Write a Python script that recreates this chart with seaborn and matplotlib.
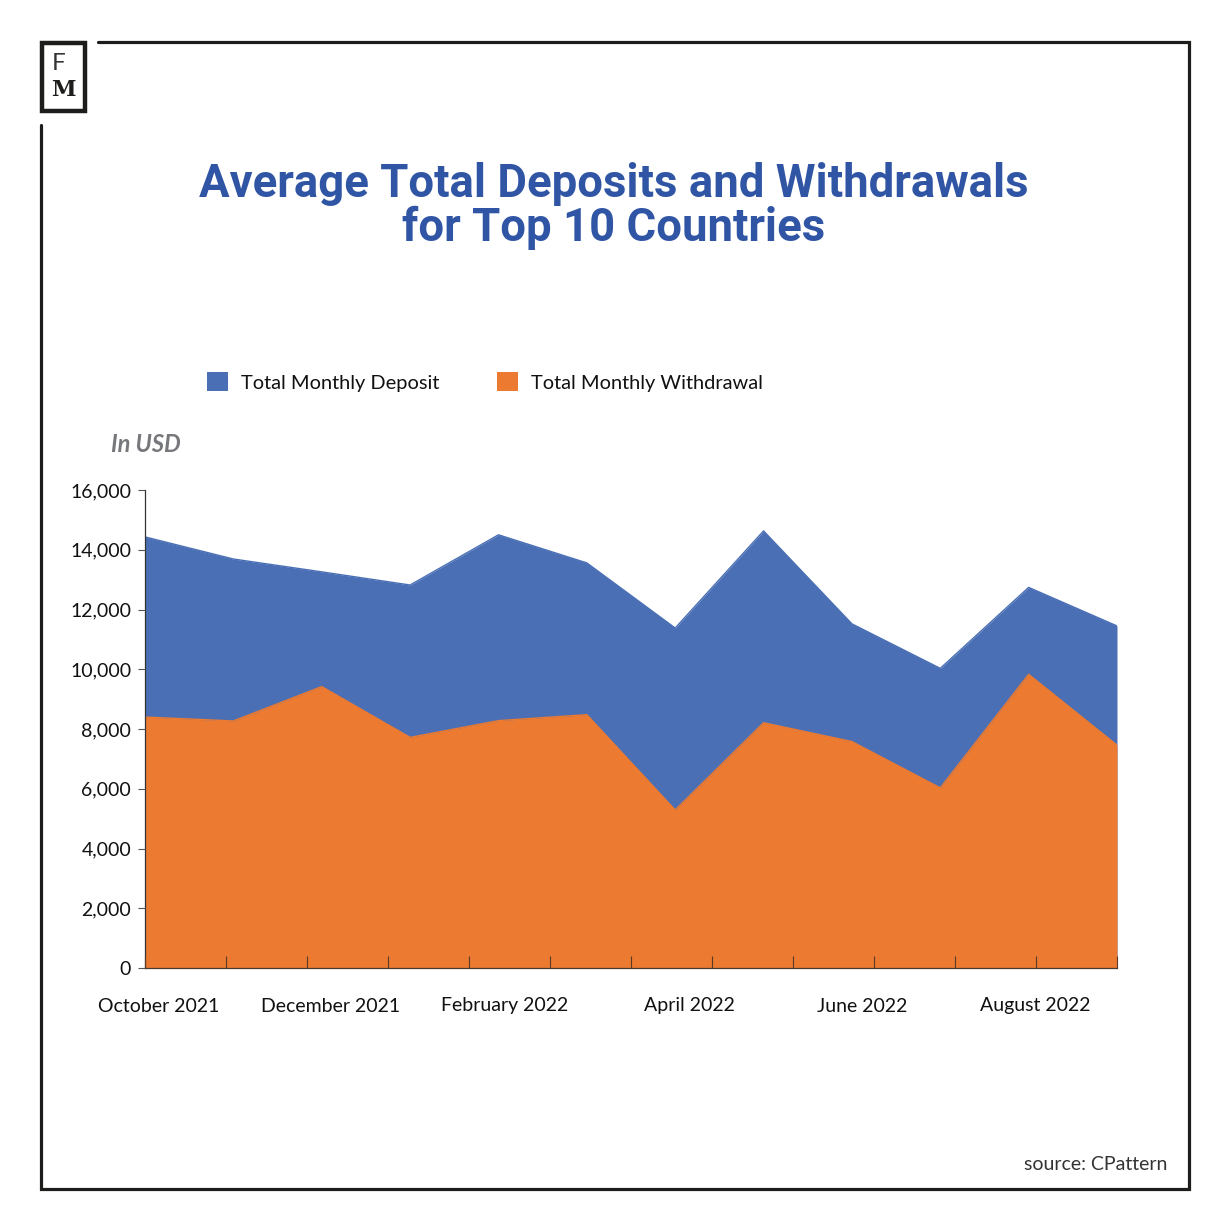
import numpy as np
import pandas as pd
import matplotlib.pyplot as plt
import seaborn as sns
from matplotlib.lines import Line2D
from matplotlib.patches import Patch, Rectangle

months = ['Oct 21', 'Nov 21', 'Dec 21', 'Jan 22', 'Feb 22', 'Mar 22',
          'Apr 22', 'May 22', 'Jun 22', 'Jul 22', 'Aug 22', 'Sep 22']
deposits = [14430, 13690, 13260, 12820, 14500, 13560, 11380, 14630, 11520, 10030, 12740, 11450]
withdrawals = [8400, 8270, 9420, 7720, 8280, 8480, 5290, 8210, 7580, 6030, 9830, 7460]
y_ticks = [0, 2000, 4000, 6000, 8000, 10000, 12000, 14000, 16000]
x_labels = ['October 2021', 'December 2021', 'February 2022', 'April 2022', 'June 2022', 'August 2022']
x_label_pos = [0.15, 2.1, 4.07, 6.16, 8.12, 10.08]

W, H = 1229, 1230
BLUE = '#4a6fb5'
ORANGE = '#ec7a30'
DARK = '#1d1d1b'

df = pd.DataFrame({'i': range(len(months)), 'month': months,
                   'deposit': deposits, 'withdrawal': withdrawals})

sns.set_theme(style='white')
plt.rcParams['font.family'] = ['Lato', 'DejaVu Sans']

fig = plt.figure(figsize=(W / 100, H / 100), dpi=100, facecolor='white')
ax = fig.add_axes([145 / W, 1 - 968 / H, (1117 - 145) / W, (968 - 490) / H])

sns.lineplot(data=df, x='i', y='deposit', color=BLUE, lw=1, ax=ax)
sns.lineplot(data=df, x='i', y='withdrawal', color=ORANGE, lw=1, ax=ax)
ax.fill_between(df['i'], df['deposit'], color=BLUE, lw=0)
ax.fill_between(df['i'], df['withdrawal'], color=ORANGE, lw=0)

ax.set_xlim(0, 11)
ax.set_ylim(0, 16000)
ax.set_xlabel('')
ax.set_ylabel('')
ax.set_yticks(y_ticks)
ax.set_yticklabels([f'{v:,}' for v in y_ticks], fontsize=14, color='#111111')
ax.tick_params(axis='y', left=True, length=5, width=0.8, color='#555555', pad=5)
ax.set_xticks(np.linspace(0, 11, 13))
ax.set_xticklabels([])
ax.tick_params(axis='x', bottom=True, direction='in', length=9, width=0.8, color='#5a3a28')
ax.set_axisbelow(False)
ax.patch.set_alpha(0)
sns.despine(ax=ax)
ax.spines['left'].set_color('#333333')
ax.spines['bottom'].set_color('#4a3a30')
ax.spines['left'].set_linewidth(0.9)
ax.spines['bottom'].set_linewidth(0.9)

for pos, lab in zip(x_label_pos, x_labels):
    ax.annotate(lab, (pos, 0), xytext=(0, -38), textcoords='offset pixels',
                ha='center', va='center', fontsize=14, color='#111111')


def px(x, y):
    return x / W, 1 - y / H


# frame with the gap around the logo
frame = [(98, 42), (1189, 42), (1189, 1189), (41, 1189), (41, 125)]
xs, ys = zip(*[px(*p) for p in frame])
fig.add_artist(Line2D(xs, ys, color=DARK, lw=2.3, solid_joinstyle='miter'))
x0, y0 = px(42, 111)
fig.add_artist(Rectangle((x0, y0), 43 / W, 68 / H, fill=False, ec=DARK, lw=3.2,
                         transform=fig.transFigure))
fig.text(*px(59, 64), 'F', fontsize=17.5, family='Lato', color='#333333',
         ha='center', va='center')
fig.text(*px(63, 90), 'M', fontsize=16, family='DejaVu Serif', fontweight='bold',
         color=DARK, ha='center', va='center')

fig.text(*px(614, 206), 'Average Total Deposits and Withdrawals\nfor Top 10 Countries',
         fontsize=32.8, family='Roboto', fontweight='bold', color='#2f55a4',
         ha='center', va='center', linespacing=1.0)

fig.legend(handles=[Patch(facecolor=BLUE, lw=0, label='Total Monthly Deposit'),
                    Patch(facecolor=ORANGE, lw=0, label='Total Monthly Withdrawal')],
           ncol=2, loc='center left', bbox_to_anchor=px(189, 382), frameon=False,
           fontsize=14.4, handlelength=1.05, handleheight=1.05, handletextpad=0.65,
           columnspacing=2.9, labelcolor='#111111')

fig.text(*px(111, 444), 'In USD', fontsize=17, style='italic', fontweight='bold',
         color='#77787b', ha='left', va='center')
fig.text(*px(1167, 1164), 'source: CPattern', fontsize=14, color='#333333',
         ha='right', va='center')

fig.savefig('out.png', dpi=100, facecolor='white')
